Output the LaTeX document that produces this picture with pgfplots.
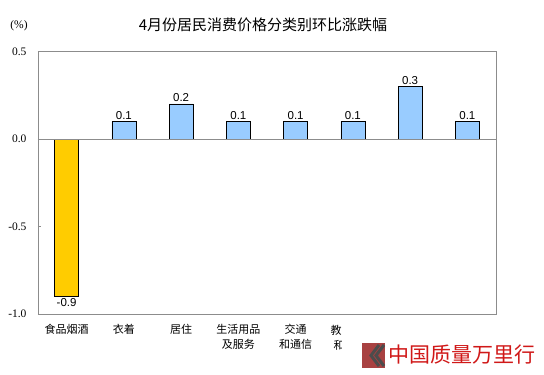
\documentclass[border=0pt]{standalone}
\usepackage{fontspec}
\setmainfont{Liberation Serif}
\newfontfamily\cjk{Noto Sans CJK SC}
\newfontfamily\arial{Liberation Sans}
\usepackage{pgfplots}
\pgfplotsset{compat=1.18}
\definecolor{gold}{HTML}{FFCC00}
\definecolor{skyb}{HTML}{99CCFF}
\definecolor{framegray}{HTML}{8C8C8C}
\definecolor{wmred}{HTML}{D01818}
\begin{document}
\begin{tikzpicture}[x=1pt,y=1pt]
\path[use as bounding box] (-38,-61) rectangle (506,314);
\begin{axis}[at={(0,0)}, anchor=south west, scale only axis,
  width=458pt, height=262.5pt,
  xmin=-0.5, xmax=7.5, ymin=-1, ymax=0.5,
  clip=false,
  axis line style={framegray},
  ytick={-1,-0.5,0,0.5}, yticklabels={-1.0,-0.5,0.0,0.5},
  yticklabel style={font=\fontsize{11.5}{11.5}\selectfont, xshift=-8pt},
  ytick pos=left, tick align=inside, major tick length=3pt,
  tick style={framegray},
  xtick={0,1,2,3,4}, xticklabels={食品烟酒,衣着,居住,生活用品\\及服务,交通\\和通信},
  xticklabel style={align=center, font=\cjk\fontsize{11}{15}\selectfont, yshift=-7pt},
  x tick style={draw=none},
  nodes near coords,
  nodes near coords style={font=\arial\fontsize{11.5}{11.5}\selectfont, inner sep=2pt, /pgf/number format/assume math mode=true, /pgf/number format/fixed, /pgf/number format/precision=1, /pgf/number format/fixed zerofill},
]
\addplot[ybar, bar shift=0pt, bar width=24pt, fill=gold, draw=black] coordinates {(0,-0.9)};
\addplot[ybar, bar shift=0pt, bar width=24pt, fill=skyb, draw=black] coordinates {(1,0.1) (2,0.2) (3,0.1) (4,0.1) (5,0.1) (6,0.3) (7,0.1)};
\draw[framegray] (axis cs:-0.5,0) -- (axis cs:7.5,0);
\end{axis}
\node[font=\cjk\fontsize{15}{15}\selectfont] at (225,289) {4月份居民消费价格分类别环比涨跌幅};
\node[font=\fontsize{11.5}{11.5}\selectfont] at (-19,288) {(\%)};
\node[font=\cjk\fontsize{11}{11}\selectfont] at (298,-16) {教};
\begin{scope}
\clip (290,-40) rectangle (303,-20);
\node[font=\cjk\fontsize{11}{11}\selectfont] at (301,-31) {和};
\end{scope}
% watermark
\fill[wmred!70!black!80] (324,-54) rectangle (347,-29);
\draw[line width=3pt, black!70] (341,-31) -- (333,-41.5) -- (341,-52);
\draw[line width=3pt, black!70] (346,-31) -- (338,-41.5) -- (346,-52);
\node[anchor=west, inner sep=0pt, text=wmred, font=\cjk\fontsize{21}{21}\selectfont] at (350,-41) {中国质量万里行};
\end{tikzpicture}
\end{document}
